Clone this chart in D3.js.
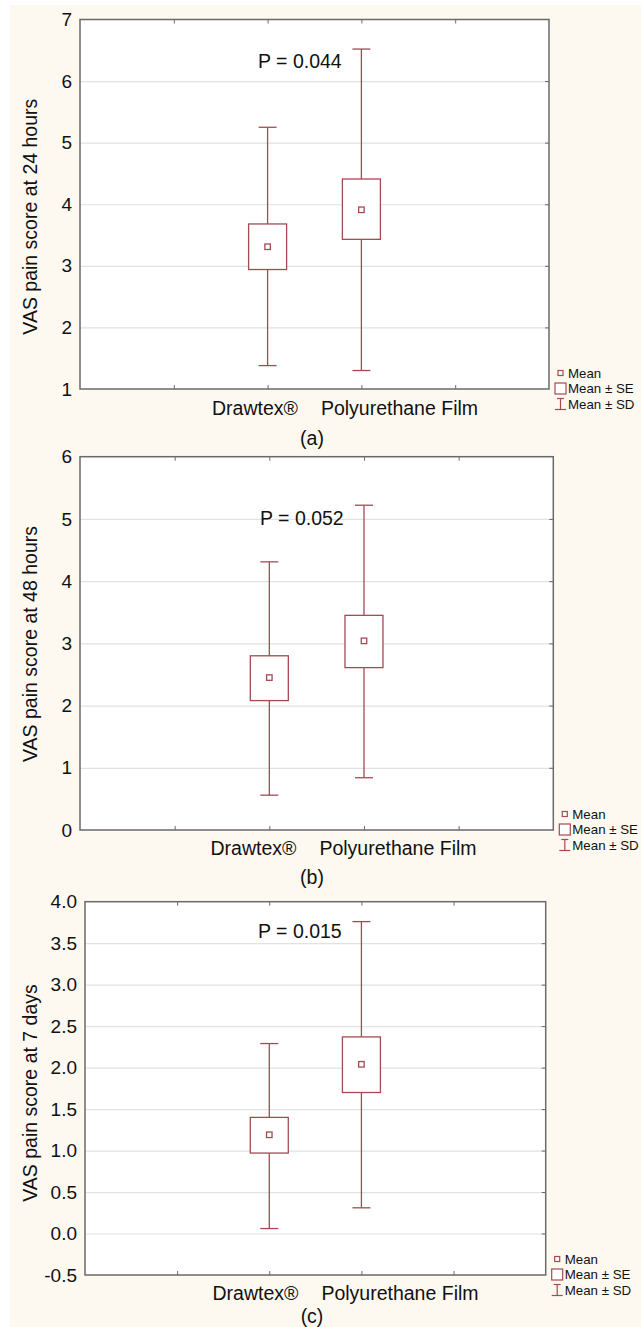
<!DOCTYPE html>
<html>
<head>
<meta charset="utf-8">
<script src="https://cdn.jsdelivr.net/npm/d3@7/dist/d3.min.js"></script>
<style>
  html, body { margin: 0; padding: 0; background: #ffffff; }
  svg { display: block; }
  text { font-family: Arial, "Liberation Sans", sans-serif; fill: #111; }
</style>
</head>
<body>
<svg id="chart" width="641" height="1327"></svg>
<script>
// ---------- DATA ----------
const categories = ["Drawtex®", "Polyurethane Film"];
const categorySlots = [2, 3];          // slot on a 0..5 category axis
const xSlotTicks = [1, 2, 3, 4];

// (a) 24 hours
const mean24   = [3.31, 3.91];
const seLow24  = [2.94, 3.43];
const seHigh24 = [3.68, 4.41];
const sdLow24  = [1.38, 1.30];
const sdHigh24 = [5.25, 6.52];
const yTicks24 = [1, 2, 3, 4, 5, 6, 7];

// (b) 48 hours
const mean48   = [2.45, 3.04];
const seLow48  = [2.08, 2.61];
const seHigh48 = [2.80, 3.45];
const sdLow48  = [0.56, 0.84];
const sdHigh48 = [4.31, 5.22];
const yTicks48 = [0, 1, 2, 3, 4, 5, 6];

// (c) 7 days
const mean7   = [1.19, 2.04];
const seLow7  = [0.97, 1.70];
const seHigh7 = [1.40, 2.37];
const sdLow7  = [0.06, 0.31];
const sdHigh7 = [2.29, 3.76];
const yTicks7 = [-0.5, 0.0, 0.5, 1.0, 1.5, 2.0, 2.5, 3.0, 3.5, 4.0];

const yTitles = ["VAS pain score at 24 hours", "VAS pain score at 48 hours", "VAS pain score at 7 days"];
const pLabels = ["P = 0.044", "P = 0.052", "P = 0.015"];
const panelLabels = ["(a)", "(b)", "(c)"];
const legendLabels = ["Mean", "Mean \u00b1 SE", "Mean \u00b1 SD"];
const tickFormats = ["d", "d", ".1f"];

// ---------- LAYOUT / STYLE ----------
const RED = "#a54a52";
const FRAME = "#6a6a6a";
const GRID = "#e2e2e2";
const CREAM = "#fdf9f0";

const layouts = [
  { left: 80, top: 19.5, right: 549,   bottom: 389,  titleX: 30, titleY: 216.7,
    pX: 258, pY: 61, labGap: 309.4, labY: 408, panY: 438 },
  { left: 80, top: 456.7, right: 553.3, bottom: 830, titleX: 30, titleY: 644,
    pX: 260, pY: 518, labGap: 307.9, labY: 848.3, panY: 876.7 },
  { left: 85, top: 901.7, right: 545.7, bottom: 1275, titleX: 30, titleY: 1093,
    pX: 258, pY: 930.7, labGap: 309.9, labY: 1292.7, panY: 1316 }
];

const datasets = [
  { mean: mean24, seLow: seLow24, seHigh: seHigh24, sdLow: sdLow24, sdHigh: sdHigh24, ticks: yTicks24 },
  { mean: mean48, seLow: seLow48, seHigh: seHigh48, sdLow: sdLow48, sdHigh: sdHigh48, ticks: yTicks48 },
  { mean: mean7,  seLow: seLow7,  seHigh: seHigh7,  sdLow: sdLow7,  sdHigh: sdHigh7,  ticks: yTicks7 }
];

const svg = d3.select("#chart");
svg.append("rect").attr("x", 0).attr("y", 0).attr("width", 641).attr("height", 1327).attr("fill", "#ffffff");
svg.append("rect").attr("x", 10).attr("y", 5).attr("width", 631).attr("height", 1322).attr("fill", CREAM);

const BOX_W = 38, CAP_W = 18, MEAN_S = 5.5;

datasets.forEach((ds, i) => {
  const L = layouts[i];
  const g = svg.append("g");
  const x = d3.scaleLinear().domain([0, 5]).range([L.left, L.right]);
  const y = d3.scaleLinear().domain([d3.min(ds.ticks), d3.max(ds.ticks)]).range([L.bottom, L.top]);
  const w = L.right - L.left;
  const fmt = d3.format(tickFormats[i]);
  const tickFmt = v => fmt(v).replace("\u2212", "-");

  // plot background
  g.append("rect").attr("x", L.left).attr("y", L.top).attr("width", w).attr("height", L.bottom - L.top)
    .attr("fill", "#ffffff");

  // gridlines
  const grid = g.append("g").attr("transform", `translate(${L.left},0)`)
    .call(d3.axisLeft(y).tickValues(ds.ticks.slice(1, -1)).tickSize(-w).tickFormat(""));
  grid.select(".domain").remove();
  grid.selectAll(".tick line").attr("stroke", GRID).attr("stroke-width", 1.2);

  // tick labels (left)
  const yl = g.append("g").attr("transform", `translate(${L.left},0)`)
    .call(d3.axisLeft(y).tickValues(ds.ticks).tickSize(0).tickPadding(8).tickFormat(tickFmt));
  yl.select(".domain").remove();
  yl.selectAll("text").attr("font-size", 19).attr("fill", "#111")
    .attr("font-family", 'Arial, "Liberation Sans", sans-serif');

  // right inward ticks
  const yr = g.append("g").attr("transform", `translate(${L.right},0)`)
    .call(d3.axisLeft(y).tickValues(ds.ticks.slice(1, -1)).tickSize(4).tickFormat(""));
  yr.select(".domain").remove();
  yr.selectAll(".tick line").attr("stroke", FRAME);

  // top inward ticks
  const xt = g.append("g").attr("transform", `translate(0,${L.top})`)
    .call(d3.axisBottom(x).tickValues(xSlotTicks).tickSize(4).tickFormat(""));
  xt.select(".domain").remove();
  xt.selectAll(".tick line").attr("stroke", FRAME);

  // bottom inward ticks
  const xb = g.append("g").attr("transform", `translate(0,${L.bottom})`)
    .call(d3.axisTop(x).tickValues(xSlotTicks).tickSize(4).tickFormat(""));
  xb.select(".domain").remove();
  xb.selectAll(".tick line").attr("stroke", FRAME);

  // frame
  g.append("rect").attr("x", L.left).attr("y", L.top).attr("width", w).attr("height", L.bottom - L.top)
    .attr("fill", "none").attr("stroke", FRAME).attr("stroke-width", 1.5);

  // marks
  const rows = categories.map((c, k) => ({
    cat: c, slot: categorySlots[k], mean: ds.mean[k], seLow: ds.seLow[k], seHigh: ds.seHigh[k],
    sdLow: ds.sdLow[k], sdHigh: ds.sdHigh[k]
  }));
  const m = g.append("g").selectAll("g").data(rows).join("g");
  m.append("line")
    .attr("x1", d => x(d.slot)).attr("x2", d => x(d.slot))
    .attr("y1", d => y(d.sdLow)).attr("y2", d => y(d.sdHigh))
    .attr("stroke", RED).attr("stroke-width", 1.3);
  m.append("line")
    .attr("x1", d => x(d.slot) - CAP_W / 2).attr("x2", d => x(d.slot) + CAP_W / 2)
    .attr("y1", d => y(d.sdHigh)).attr("y2", d => y(d.sdHigh))
    .attr("stroke", RED).attr("stroke-width", 1.3);
  m.append("line")
    .attr("x1", d => x(d.slot) - CAP_W / 2).attr("x2", d => x(d.slot) + CAP_W / 2)
    .attr("y1", d => y(d.sdLow)).attr("y2", d => y(d.sdLow))
    .attr("stroke", RED).attr("stroke-width", 1.3);
  m.append("rect")
    .attr("x", d => x(d.slot) - BOX_W / 2).attr("width", BOX_W)
    .attr("y", d => y(d.seHigh)).attr("height", d => y(d.seLow) - y(d.seHigh))
    .attr("fill", "#ffffff").attr("stroke", RED).attr("stroke-width", 1.3);
  m.append("rect")
    .attr("x", d => x(d.slot) - MEAN_S / 2).attr("width", MEAN_S)
    .attr("y", d => y(d.mean) - MEAN_S / 2).attr("height", MEAN_S)
    .attr("fill", "#ffffff").attr("stroke", RED).attr("stroke-width", 1.3);

  // category labels
  g.append("text").attr("x", L.labGap - 11.5).attr("y", L.labY).attr("dy", "0.35em")
    .attr("text-anchor", "end").attr("font-size", 19.5).text(categories[0]);
  g.append("text").attr("x", L.labGap + 11.5).attr("y", L.labY).attr("dy", "0.35em")
    .attr("text-anchor", "start").attr("font-size", 19.5).text(categories[1]);

  // panel label
  g.append("text").attr("x", 312).attr("y", L.panY).attr("dy", "0.35em")
    .attr("text-anchor", "middle").attr("font-size", 19.5).text(panelLabels[i]);

  // p value
  g.append("text").attr("x", L.pX).attr("y", L.pY).attr("dy", "0.35em")
    .attr("text-anchor", "start").attr("font-size", 19.5).text(pLabels[i]);

  // y title
  g.append("text").attr("transform", `translate(${L.titleX},${L.titleY}) rotate(-90)`)
    .attr("dy", "0.35em").attr("text-anchor", "middle").attr("font-size", 19.5).text(yTitles[i]);

  // legend
  const lx = L.right + 6;
  const ly = [L.bottom - 16, L.bottom - 0.5, L.bottom + 15];
  const lg = g.append("g");
  lg.append("rect").attr("x", lx + 5.5 - 2.5).attr("y", ly[0] - 2.5).attr("width", 5).attr("height", 5)
    .attr("fill", "#fff").attr("stroke", RED).attr("stroke-width", 1.2);
  lg.append("rect").attr("x", lx).attr("y", ly[1] - 5.5).attr("width", 11).attr("height", 11)
    .attr("fill", "#fff").attr("stroke", RED).attr("stroke-width", 1.2);
  lg.append("line").attr("x1", lx + 5.5).attr("x2", lx + 5.5).attr("y1", ly[2] - 5.5).attr("y2", ly[2] + 5.5)
    .attr("stroke", RED).attr("stroke-width", 1.2);
  lg.append("line").attr("x1", lx).attr("x2", lx + 11).attr("y1", ly[2] + 5.5).attr("y2", ly[2] + 5.5)
    .attr("stroke", RED).attr("stroke-width", 1.2);
  lg.append("line").attr("x1", lx + 2).attr("x2", lx + 9).attr("y1", ly[2] - 5.5).attr("y2", ly[2] - 5.5)
    .attr("stroke", RED).attr("stroke-width", 1.2);
  legendLabels.forEach((t, k) => {
    lg.append("text").attr("x", lx + 13).attr("y", ly[k]).attr("dy", "0.35em")
      .attr("font-size", 13.3).text(t);
  });
});
</script>
</body>
</html>
